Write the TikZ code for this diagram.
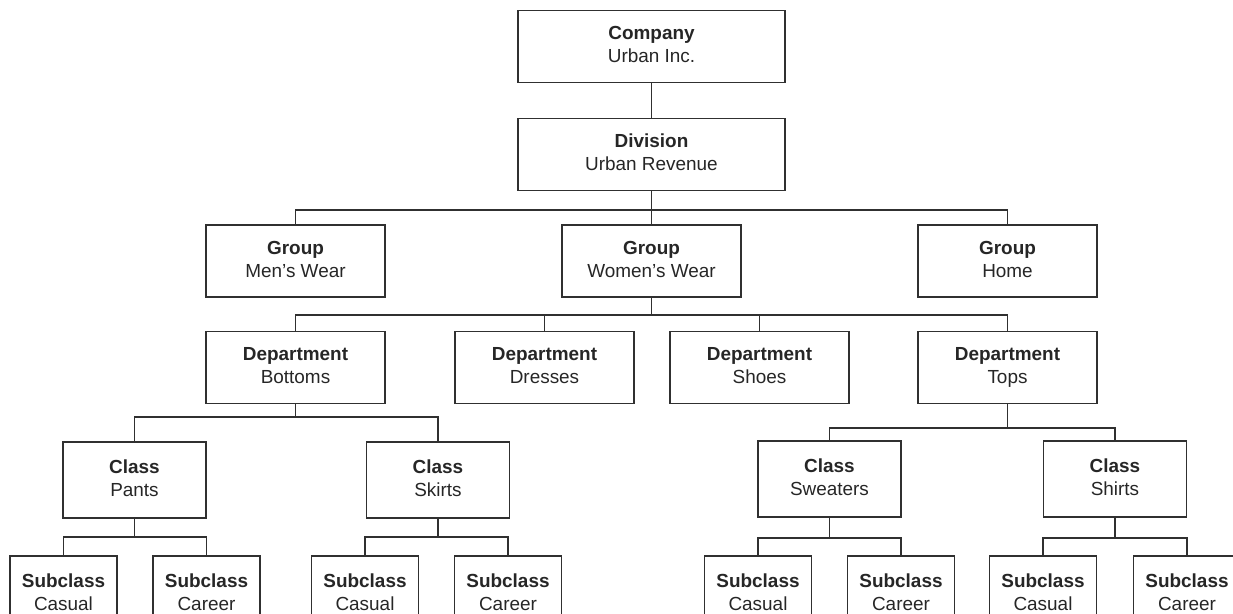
\documentclass[tikz,border=0pt]{standalone}
\usepackage{fontspec}
\setmainfont{Liberation Sans}
\usepackage{tikz}
\definecolor{framegray}{RGB}{48,48,48}
\definecolor{inkgray}{RGB}{38,38,38}
\tikzstyle{orgbox}=[draw=framegray, line width=1.3pt, rectangle, inner sep=0pt, align=center, text=inkgray, font=\fontsize{14.2}{17.25}\selectfont]
\tikzstyle{topbox}=[orgbox, minimum width=200.25pt, minimum height=54pt]
\tikzstyle{grpbox}=[orgbox, minimum width=134.25pt, minimum height=54pt]
\tikzstyle{clsbox}=[orgbox, minimum width=107.25pt, minimum height=57pt]
\tikzstyle{subbox}=[orgbox, minimum width=80.25pt, minimum height=57pt]
\tikzstyle{link}=[draw=framegray, line width=1.1pt]
\newcommand{\unitlabel}[2]{\textbf{#1}\strut\\#2\strut}

\begin{document}
\begin{tikzpicture}[x=0.75pt,y=-0.75pt]
\useasboundingbox (0,0) rectangle (1233,614);
\clip (0,0) rectangle (1233,614);

% company and division
\node[topbox] (cmp) at (651.5,46.5) {\unitlabel{Company}{Urban Inc.}};
\node[topbox] (dvs) at (651.5,154.5) {\unitlabel{Division}{Urban Revenue}};

% groups
\node[grpbox] (grpM) at (295.5,261) {\unitlabel{Group}{Men's Wear}};
\node[grpbox] (grpW) at (651.5,261) {\unitlabel{Group}{Women's Wear}};
\node[grpbox] (grpH) at (1007.5,261) {\unitlabel{Group}{Home}};

% departments
\node[grpbox] (dptB) at (295.5,367.5) {\unitlabel{Department}{Bottoms}};
\node[grpbox] (dptD) at (544.5,367.5) {\unitlabel{Department}{Dresses}};
\node[grpbox] (dptS) at (759.5,367.5) {\unitlabel{Department}{Shoes}};
\node[grpbox] (dptT) at (1007.5,367.5) {\unitlabel{Department}{Tops}};

% classes
\node[clsbox] (clsP) at (134.5,480) {\unitlabel{Class}{Pants}};
\node[clsbox] (clsK) at (438,480) {\unitlabel{Class}{Skirts}};
\node[clsbox] (clsW) at (829.5,479) {\unitlabel{Class}{Sweaters}};
\node[clsbox] (clsS) at (1115,479) {\unitlabel{Class}{Shirts}};

% subclasses
\node[subbox] (subPa) at (63.5,594) {\unitlabel{Subclass}{Casual}};
\node[subbox] (subPb) at (206.5,594) {\unitlabel{Subclass}{Career}};
\node[subbox] (subKa) at (365,594) {\unitlabel{Subclass}{Casual}};
\node[subbox] (subKb) at (508,594) {\unitlabel{Subclass}{Career}};
\node[subbox] (subWa) at (758,594) {\unitlabel{Subclass}{Casual}};
\node[subbox] (subWb) at (901,594) {\unitlabel{Subclass}{Career}};
\node[subbox] (subSa) at (1043,594) {\unitlabel{Subclass}{Casual}};
\node[subbox] (subSb) at (1187,594) {\unitlabel{Subclass}{Career}};

% bars
\coordinate (barG) at (651.5,210);
\coordinate (barD) at (651.5,315);
\coordinate (barB) at (295.5,417);
\coordinate (barT) at (1007.5,428);
\coordinate (barP) at (134.5,537);
\coordinate (barK) at (438,537);
\coordinate (barW) at (829.5,538);
\coordinate (barS) at (1115,538);

% connectors
\draw[link] (cmp) -- (dvs);
\draw[link] (dvs.south) -- (barG);
\foreach \g in {grpM,grpW,grpH} \draw[link] (barG) -| (\g.north);
\draw[link] (grpW.south) -- (barD);
\foreach \d in {dptB,dptD,dptS,dptT} \draw[link] (barD) -| (\d.north);
\draw[link] (dptB.south) -- (barB);
\foreach \c in {clsP,clsK} \draw[link] (barB) -| (\c.north);
\draw[link] (dptT.south) -- (barT);
\foreach \c in {clsW,clsS} \draw[link] (barT) -| (\c.north);
\foreach \c/\b/\s/\t in {clsP/barP/subPa/subPb, clsK/barK/subKa/subKb, clsW/barW/subWa/subWb, clsS/barS/subSa/subSb}{
  \draw[link] (\c.south) -- (\b);
  \draw[link] (\b) -| (\s.north);
  \draw[link] (\b) -| (\t.north);
}

\end{tikzpicture}
\end{document}
